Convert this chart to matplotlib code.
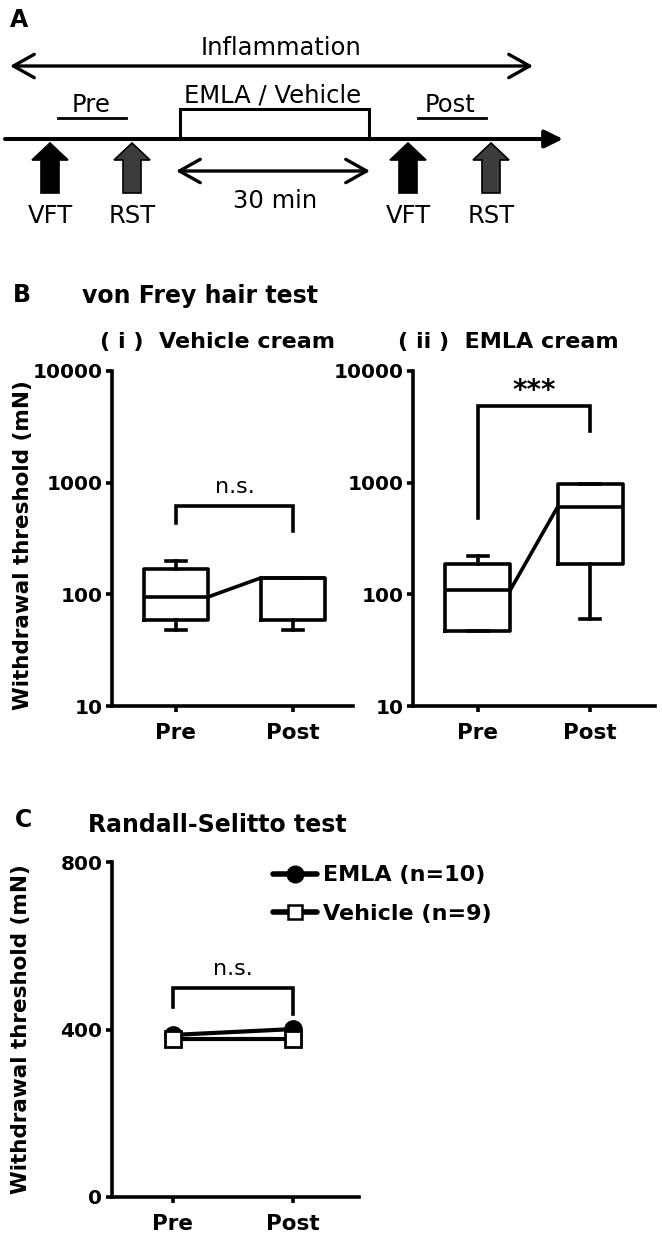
import matplotlib
matplotlib.use('Agg')
import matplotlib.pyplot as plt
from matplotlib.patches import Polygon
from matplotlib.lines import Line2D
from matplotlib.ticker import NullLocator

plt.rcParams['font.family'] = 'DejaVu Sans'
plt.rcParams['font.weight'] = 'bold'

# ---- data ----
groups = ['Pre', 'Post']

# von Frey, box stats (mN)
vehicle_whislo = [48, 48]
vehicle_q1 = [59, 59]
vehicle_med = [95, 140]
vehicle_q3 = [170, 140]
vehicle_whishi = [200, 140]

emla_whislo = [47, 60]
emla_q1 = [47, 185]
emla_med = [110, 605]
emla_q3 = [185, 970]
emla_whishi = [220, 970]

# bracket: pre leg end, bar level, post leg end
vehicle_bracket = [435, 617, 369]
emla_bracket = [482, 4850, 2900]

# Randall-Selitto means (mN)
rs_emla = [387, 401]
rs_vehicle = [377, 377]
rs_bracket = [454, 499, 437]

W, H = 662, 1243
LW = 2.6

fig = plt.figure(figsize=(W / 100, H / 100), dpi=100)

# overlay in pixel coordinates for schematic + panel labels
ax0 = fig.add_axes([0, 0, 1, 1])
ax0.set_xlim(0, W)
ax0.set_ylim(H, 0)
ax0.axis('off')


def px_axes(x0, y0, x1, y1):
    return fig.add_axes([x0 / W, 1 - y1 / H, (x1 - x0) / W, (y1 - y0) / H])


# ---------------- panel A ----------------
ax0.text(10, 27, 'A', fontsize=17, fontweight='bold', va='baseline')
txt_a = dict(fontsize=17.5, fontweight='normal', ha='center', va='baseline')

ax0.annotate('', xy=(10, 66), xytext=(533, 66),
             arrowprops=dict(arrowstyle='<->,head_length=0.75,head_width=0.42',
                             lw=2.4, color='k', mutation_scale=20, shrinkA=0, shrinkB=0))
ax0.text(281, 55, 'Inflammation', **txt_a)

ax0.annotate('', xy=(563, 139), xytext=(5, 139),
             arrowprops=dict(arrowstyle='-|>,head_length=0.55,head_width=0.27',
                             lw=2.9, color='k', mutation_scale=20, shrinkA=0, shrinkB=0))
ax0.plot([180, 180, 369, 369], [139, 109, 109, 139], color='k', lw=2.2,
         solid_joinstyle='miter')
ax0.text(273, 102, 'EMLA / Vehicle', **txt_a)

ax0.text(91, 112, 'Pre', **txt_a)
ax0.plot([58, 126], [118, 118], color='k', lw=2)
ax0.text(450, 112, 'Post', **txt_a)
ax0.plot([418, 486], [118, 118], color='k', lw=2)


def block_arrow(cx, fc):
    pts = [(cx, 143), (cx + 18, 160), (cx + 9, 160), (cx + 9, 193),
           (cx - 9, 193), (cx - 9, 160), (cx - 18, 160)]
    ax0.add_patch(Polygon(pts, closed=True, facecolor=fc, edgecolor='k', lw=1.2))


for cx, fc, lab in [(50, 'k', 'VFT'), (132, '#3c3c3c', 'RST'),
                    (408, 'k', 'VFT'), (491, '#3c3c3c', 'RST')]:
    block_arrow(cx, fc)
    ax0.text(cx, 223, lab, **txt_a)

ax0.annotate('', xy=(176, 171), xytext=(370, 171),
             arrowprops=dict(arrowstyle='<->,head_length=0.75,head_width=0.42',
                             lw=2.4, color='k', mutation_scale=20, shrinkA=0, shrinkB=0))
ax0.text(275, 208, '30 min', **txt_a)

# ---------------- panel B ----------------
ax0.text(13, 302, 'B', fontsize=17, fontweight='bold', va='baseline')
ax0.text(82, 303, 'von Frey hair test', fontsize=17, fontweight='bold', va='baseline')
ax0.text(217, 348, '( i )  Vehicle cream', fontsize=16, fontweight='bold',
         ha='center', va='baseline')
ax0.text(508, 348, '( ii )  EMLA cream', fontsize=16, fontweight='bold',
         ha='center', va='baseline')


def style_axes(ax):
    ax.patch.set_alpha(0)
    for s in ['top', 'right']:
        ax.spines[s].set_visible(False)
    for s in ['left', 'bottom']:
        ax.spines[s].set_linewidth(LW)
    ax.tick_params(axis='both', direction='out', length=4, width=LW)
    ax.tick_params(axis='y', labelsize=14.5, pad=3)
    ax.tick_params(axis='x', labelsize=15.5, pad=8)
    ax.set_xticks([0, 1])
    ax.set_xticklabels(groups, fontweight='bold')


def box_panel(ax, whislo, q1, med, q3, whishi, bracket, sig, sig_y, sig_size,
              sig_weight, width):
    stats = [dict(whislo=whislo[i], q1=q1[i], med=med[i], q3=q3[i],
                  whishi=whishi[i], label=groups[i]) for i in range(2)]
    lp = dict(color='k', lw=LW)
    ax.bxp(stats, positions=[0, 1], widths=width, capwidths=0.17,
           showfliers=False, boxprops=lp, whiskerprops=lp, capprops=lp,
           medianprops=lp, manage_ticks=False)
    ax.plot([width / 2, 1 - width / 2], med, color='k', lw=LW)
    ax.plot([0, 0, 1, 1], [bracket[0], bracket[1], bracket[1], bracket[2]],
            color='k', lw=LW, solid_joinstyle='miter')
    ax.text(0.5, sig_y, sig, ha='center', va='baseline', fontsize=sig_size,
            fontweight=sig_weight)
    ax.set_yscale('log')
    ax.set_ylim(10, 10000)
    ax.yaxis.set_minor_locator(NullLocator())
    ax.set_yticks([10, 100, 1000, 10000])
    ax.set_yticklabels(['10', '100', '1000', '10000'], fontweight='bold')
    style_axes(ax)


axL = px_axes(112, 371, 353, 706)
box_panel(axL, vehicle_whislo, vehicle_q1, vehicle_med, vehicle_q3, vehicle_whishi,
          vehicle_bracket, 'n.s.', 800, 16, 'normal', 0.555)
axL.set_xlim(-0.547, 1.513)
axL.set_ylabel('Withdrawal threshold (mN)', fontsize=15.5, fontweight='bold')
axL.yaxis.set_label_coords(-0.328, 0.48)

axR = px_axes(413, 371, 655, 706)
box_panel(axR, emla_whislo, emla_q1, emla_med, emla_q3, emla_whishi,
          emla_bracket, '***', 5600, 20, 'bold', 0.58)
axR.set_xlim(-0.58, 1.58)

# ---------------- panel C ----------------
ax0.text(15, 827, 'C', fontsize=17, fontweight='bold', va='baseline')
ax0.text(88, 832, 'Randall-Selitto test', fontsize=17, fontweight='bold',
         va='baseline')

axC = px_axes(112, 862, 359, 1197)
axC.plot([0, 1], rs_emla, color='k', lw=3, marker='o', ms=12.5,
         mfc='k', mec='k', zorder=3)
axC.plot([0, 1], rs_vehicle, color='k', lw=3, marker='s', ms=11,
         mfc='white', mec='k', mew=2, zorder=4)
axC.plot([0, 0, 1, 1], [rs_bracket[0], rs_bracket[1], rs_bracket[1], rs_bracket[2]],
         color='k', lw=LW, solid_joinstyle='miter')
axC.text(0.5, 530, 'n.s.', ha='center', va='baseline', fontsize=16,
         fontweight='normal')
axC.set_ylim(0, 800)
axC.set_yticks([0, 400, 800])
axC.set_yticklabels(['0', '400', '800'], fontweight='bold')
axC.set_xlim(-0.508, 1.55)
style_axes(axC)
axC.set_ylabel('Withdrawal threshold (mN)', fontsize=15.5, fontweight='bold')
axC.yaxis.set_label_coords(-0.328, 0.5)

handles = [
    Line2D([], [], color='k', lw=4, solid_capstyle='round', marker='o', ms=12,
           mfc='k', mec='k'),
    Line2D([], [], color='k', lw=4, solid_capstyle='round', marker='s', ms=10,
           mfc='white', mec='k', mew=1.8),
]
axC.legend(handles, ['EMLA (n=10)', 'Vehicle (n=9)'], loc='upper left',
           bbox_to_anchor=(0.652, 0.99), frameon=False, borderpad=0,
           borderaxespad=0, handlelength=2.0, handletextpad=0.25,
           labelspacing=0.85, prop=dict(size=16, weight='bold'))

fig.savefig('out.png', dpi=100)
